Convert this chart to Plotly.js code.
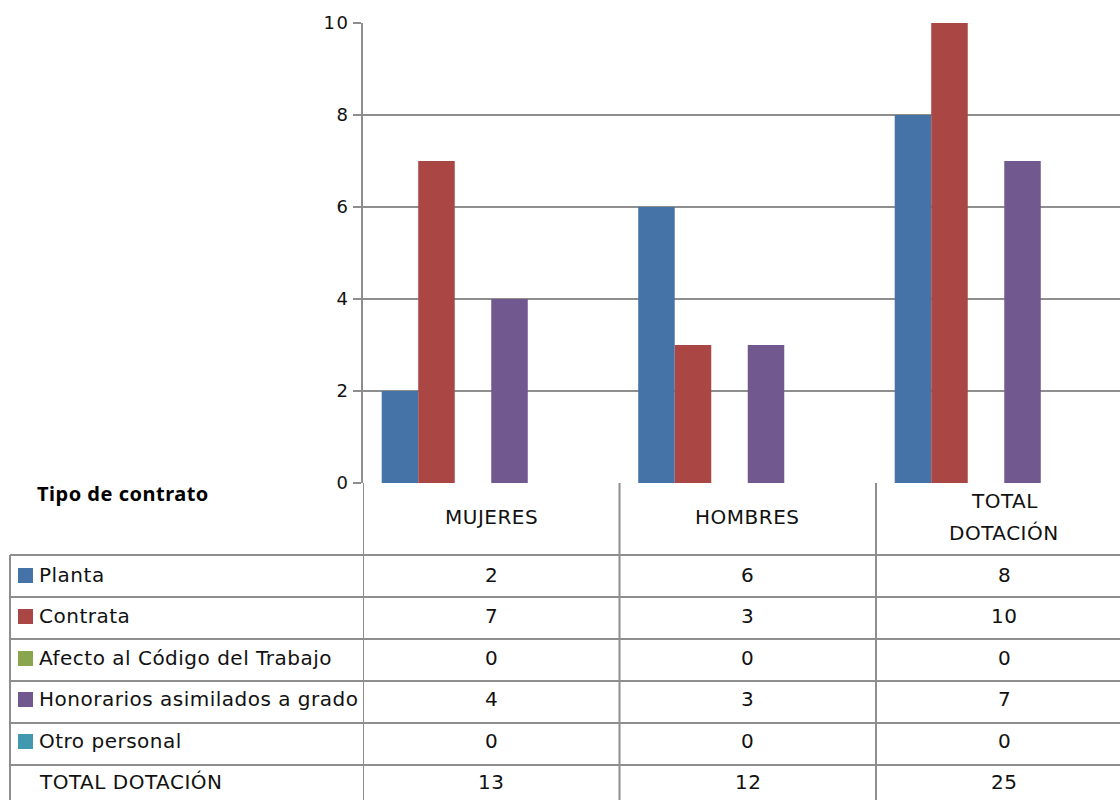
<!DOCTYPE html>
<html><head><meta charset="utf-8">
<script src="https://cdn.plot.ly/plotly-3.0.1.min.js"></script>
<style>html,body{margin:0;padding:0;background:#fff;overflow:hidden}#chart{width:1120px;height:800px}
text{letter-spacing:0.5px}
.ytick text{letter-spacing:1.5px}
</style>
</head><body><div id="chart"></div>
<script>
const categories = ['MUJERES', 'HOMBRES', 'TOTAL<br>DOTACIÓN'];
const seriesNames = ['Planta', 'Contrata', 'Afecto al Código del Trabajo', 'Honorarios asimilados a grado', 'Otro personal'];
const planta = [2, 6, 8];
const contrata = [7, 3, 10];
const afecto = [0, 0, 0];
const honorarios = [4, 3, 7];
const otro = [0, 0, 0];
const totalDotacion = [13, 12, 25];
const totalLabel = 'TOTAL DOTACIÓN';
const tableTitle = 'Tipo de contrato';
const yTicks = [0, 2, 4, 6, 8, 10];

const seriesValues = [planta, contrata, afecto, honorarios, otro];
const colors = ['#4572A7', '#AA4643', '#89A54E', '#71588F', '#4198AF'];
const lineColor = '#8e8e8e';
const FONT = 'DejaVu Sans, sans-serif';
const FS = 20;

// plot area in pixels
const L = 363, R = 1120, T = 23, B = 483;
const px = x => (x - L) / (R - L);
const py = y => (B - y) / (B - T);

const xIdx = categories.map((c, i) => i);
const traces = seriesValues.map((vals, i) => ({
  type: 'bar', x: xIdx, y: vals, name: seriesNames[i],
  marker: {color: colors[i], line: {width: 0}}, showlegend: false, hoverinfo: 'y'
}));
// sixth (hidden) series slot: total row
traces.push({type: 'bar', x: xIdx, y: totalDotacion, name: totalLabel,
  marker: {color: 'rgba(0,0,0,0)'}, showlegend: false, hoverinfo: 'skip'});

const shapes = [];
const annotations = [];
const rowTops = [555, 597, 639, 681, 723, 765];
const rowBottom = 808;
const colEdges = [-0.5, 0.5, 1.5, 2.5];

rowTops.forEach(y => {
  shapes.push({type: 'line', xref: 'paper', yref: 'paper', x0: px(10), x1: 1.02, y0: py(y), y1: py(y),
    line: {color: lineColor, width: 2}, layer: 'above'});
});
shapes.push({type: 'line', xref: 'paper', yref: 'paper', x0: px(10), x1: px(10), y0: py(555), y1: py(rowBottom),
  line: {color: lineColor, width: 2}});
colEdges.forEach(e => {
  shapes.push({type: 'line', xref: 'x', yref: 'paper', x0: e, x1: e, y0: 0, y1: py(rowBottom),
    line: {color: lineColor, width: 2}});
});

const rowLabels = seriesNames.concat([totalLabel]);
const rowValues = seriesValues.concat([totalDotacion]);
const rowCenters = [575, 616, 658, 699, 741, 782];
rowLabels.forEach((lab, r) => {
  const yc = rowCenters[r];
  if (r < colors.length) {
    shapes.push({type: 'rect', xref: 'paper', yref: 'paper', x0: px(18), x1: px(33), y0: py(yc + 8), y1: py(yc - 7),
      fillcolor: colors[r], line: {width: 0}});
  }
  annotations.push({xref: 'paper', yref: 'paper', x: px(37), y: py(yc), text: lab, showarrow: false,
    xanchor: 'left', yanchor: 'middle', font: {family: FONT, size: FS, color: '#111'}});
  rowValues[r].forEach((v, c) => {
    annotations.push({xref: 'x', yref: 'paper', x: c, y: py(yc), text: String(v), showarrow: false,
      xanchor: 'center', yanchor: 'middle', font: {family: FONT, size: FS, color: '#111'}});
  });
});

// category header cells (multi-line labels laid out with wider spacing)
categories.forEach((c, i) => {
  const lines = c.split('<br>');
  const gap = 32;
  lines.forEach((ln, k) => {
    const yc = 517 + (k - (lines.length - 1) / 2) * gap;
    annotations.push({xref: 'x', yref: 'paper', x: i, y: py(yc), text: ln, showarrow: false,
      xanchor: 'center', yanchor: 'middle', font: {family: FONT, size: FS, color: '#111'}});
  });
});
annotations.push({xref: 'paper', yref: 'paper', x: px(35), y: py(493), text: '<b>' + tableTitle + '</b>', showarrow: false,
  xanchor: 'left', yanchor: 'middle', font: {family: 'Noto Sans, sans-serif', size: 20, color: '#000'}});

const layout = {
  width: 1120, height: 800,
  margin: {l: L, r: 1120 - R, t: T, b: 800 - B},
  paper_bgcolor: '#fff', plot_bgcolor: '#fff',
  barmode: 'group', bargap: 0.146, bargroupgap: 0,
  xaxis: {range: [-0.5, -0.5 + (R - L) / 256.5], showticklabels: false, showgrid: false, zeroline: false,
    ticks: '', showline: false, fixedrange: true},
  yaxis: {range: [0, 10], tickvals: yTicks, showgrid: true, gridcolor: lineColor, gridwidth: 2,
    zeroline: false, showline: true, linecolor: lineColor, linewidth: 2,
    ticks: 'outside', ticklen: 8, tickcolor: lineColor, tickwidth: 2,
    tickfont: {family: FONT, size: 18, color: '#111'}, fixedrange: true},
  shapes: shapes, annotations: annotations, showlegend: false
};
Plotly.newPlot('chart', traces, layout, {displayModeBar: false, staticPlot: true});
</script></body></html>
